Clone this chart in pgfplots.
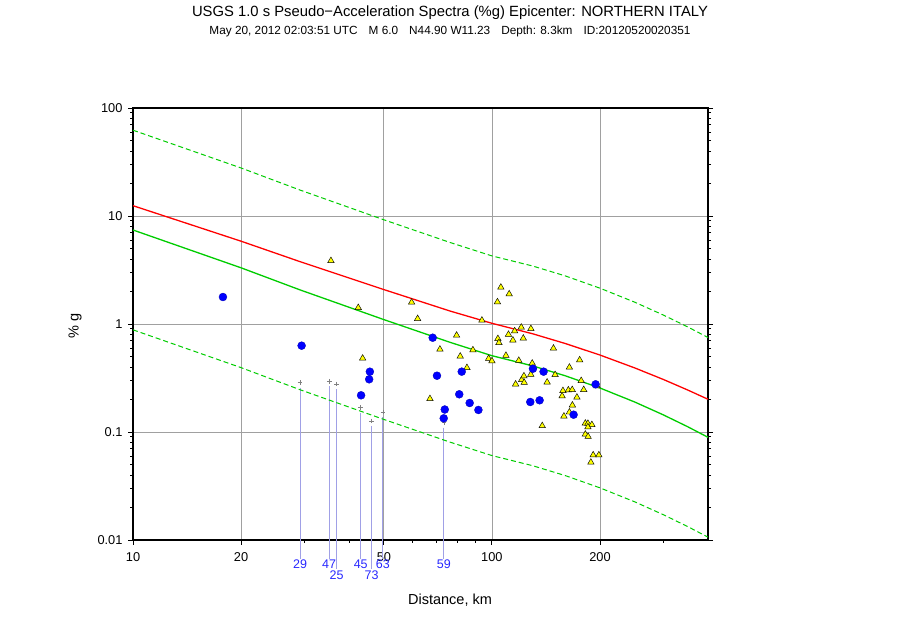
\documentclass[border=0pt]{standalone}
\usepackage{fontspec}
\setmainfont{Liberation Sans}
\usepackage{pgfplots}
\usepackage{pgfplotstable}
\pgfplotsset{compat=1.18}
\definecolor{gmtgreen}{RGB}{0,205,0}
\definecolor{stalines}{RGB}{160,160,230}
\definecolor{stalabel}{RGB}{40,40,255}
\definecolor{gridgray}{RGB}{160,160,160}
\definecolor{trifill}{RGB}{255,255,0}
\definecolor{dotblue}{RGB}{0,0,255}

\pgfplotstableread{
x y
10 12.46
20 5.845
29.19 3.78
50 2.083
76.4 1.319
100 1.015
130 0.811
160 0.660
200 0.516
250 0.392
300 0.307
350 0.246
400 0.201
}\redtab

\pgfplotstableread{
x y
10 7.42
20 3.314
29.19 2.07
50 1.098
76.4 0.677
100 0.5086
130 0.409
160 0.3317
200 0.2555
250 0.1895
300 0.1443
350 0.1125
400 0.0893
}\greentab

\pgfplotstableread{
x y
10 62.3
20 27.84
29.19 17.39
50 9.22
76.4 5.69
100 4.27
130 3.44
160 2.79
200 2.146
250 1.592
300 1.212
350 0.945
400 0.750
}\uppertab

\pgfplotstableread{
x y
10 0.883
20 0.3945
29.19 0.2464
50 0.1307
76.4 0.0806
100 0.0605
130 0.0487
160 0.0395
200 0.0304
250 0.02256
300 0.01718
350 0.01339
400 0.01063
}\lowertab

\pgfplotstableread{
x y
35.60 3.856
42.42 1.416
43.63 0.4814
59.74 1.588
62.09 1.120
67.20 0.2033
71.64 0.5831
79.74 0.7858
81.60 0.5024
85.19 0.3939
88.52 0.5744
93.79 1.082
97.91 0.4793
100.0 0.4544
103.6 1.599
103.9 0.7312
104.6 0.6711
105.9 2.187
109.4 0.5108
111.2 0.7994
111.7 1.896
114.4 0.7079
115.7 0.8615
116.4 0.2771
118.8 0.4592
120.7 0.9321
121.0 0.3043
122.3 0.7374
122.8 0.3300
123.0 0.2873
128.3 0.3407
128.4 0.9048
129.5 0.4326
138.1 0.1141
142.5 0.2891
148.4 0.5957
150.0 0.3393
156.9 0.2154
157.7 0.2412
158.7 0.1400
163.3 0.2443
164.4 0.3973
164.4 0.1526
167.4 0.2464
167.6 0.1771
172.5 0.2096
175.6 0.4642
177.3 0.2985
180.2 0.2464
182.1 0.1204
185.1 0.1199
189.9 0.1168
185.1 0.1112
182.1 0.0952
185.4 0.0908
196.3 0.2667
191.5 0.0612
198.6 0.0612
188.7 0.0524
}\tritab

\pgfplotstableread{
x y
17.81 1.778
29.5 0.630
45.7 0.3617
45.5 0.3076
43.2 0.2187
68.4 0.7465
70.3 0.332
82.4 0.362
81.1 0.2234
86.7 0.1856
91.7 0.160
73.9 0.1615
73.4 0.1338
130.1 0.3856
139.3 0.362
127.9 0.1896
135.8 0.1966
168.9 0.1446
194.5 0.2765
}\dottab

\pgfplotstableread{
x y
29.2 0.286
35.2 0.2947
36.9 0.278
43.1 0.168
46.2 0.1264
49.7 0.1532
73.5 0.122
}\crosstab

\pgfplotstableread{
x y lab
29.2 0.00593 29
35.2 0.00593 47
36.9 0.00469 25
43.1 0.00593 45
46.2 0.00469 73
49.7 0.00593 63
73.5 0.00593 59
}\labtab

\begin{document}
\begin{tikzpicture}
\fill[white] (0pt,0pt) rectangle (900pt,620pt);
\useasboundingbox (0pt,0pt) rectangle (900pt,620pt);
\begin{axis}[
  at={(133pt,80pt)}, anchor=south west,
  scale only axis, width=575pt, height=432pt,
  xmode=log, ymode=log,
  xmin=10, xmax=400, ymin=0.01, ymax=100,
  clip=false,
  xtick={10,20,50,100,200}, xticklabels={10,20,50,100,200},
  minor xtick={30,40,60,70,80,90,300},
  ytick={0.01,0.1,1,10,100}, yticklabels={0.01,0.1,1,10,100},
  minor ytick={0.02,0.03,0.04,0.05,0.06,0.07,0.08,0.09,0.2,0.3,0.4,0.5,0.6,0.7,0.8,0.9,2,3,4,5,6,7,8,9,20,30,40,50,60,70,80,90},
  xtick pos=left, ytick pos=both,
  tick align=outside,
  major tick length=5pt, minor tick length=3pt,
  every tick/.style={black, line width=0.9pt},
  xmajorgrids, ymajorgrids,
  major grid style={gridgray, line width=0.8pt},
  axis line style={black, line width=2.4pt},
  ticklabel style={font=\fontsize{12.8}{13}\selectfont},
  yticklabel style={xshift=-2pt},
  xticklabel style={yshift=-4pt},
]
\addplot[stalines, line width=0.9pt] coordinates {(29.2,0.257) (29.2,0.00667)};
\addplot[stalines, line width=0.9pt] coordinates {(35.2,0.265) (35.2,0.00667)};
\addplot[stalines, line width=0.9pt] coordinates {(36.9,0.250) (36.9,0.00539)};
\addplot[stalines, line width=0.9pt] coordinates {(43.1,0.151) (43.1,0.00667)};
\addplot[stalines, line width=0.9pt] coordinates {(46.2,0.114) (46.2,0.00539)};
\addplot[stalines, line width=0.9pt] coordinates {(49.7,0.138) (49.7,0.00667)};
\addplot[stalines, line width=0.9pt] coordinates {(73.5,0.110) (73.5,0.00667)};

\addplot[red, line width=1.3pt] table {\redtab};
\addplot[gmtgreen, line width=1.3pt] table {\greentab};
\addplot[gmtgreen, line width=1pt, dash pattern=on 5pt off 3pt] table {\uppertab};
\addplot[gmtgreen, line width=1pt, dash pattern=on 5pt off 3pt] table {\lowertab};

\addplot[only marks, mark=+, mark size=2.4pt, mark options={gray, line width=0.8pt}] table {\crosstab};
\addplot[only marks, mark=none, nodes near coords, point meta=explicit symbolic,
  nodes near coords style={font=\fontsize{12.5}{13}\selectfont, text=stalabel, anchor=center, inner sep=0pt}]
  table[meta=lab] {\labtab};

\addplot[only marks, mark=triangle*, mark size=3.7pt, mark options={fill=trifill, draw=black, line width=0.45pt}] table {\tritab};
\addplot[only marks, mark=*, mark size=4pt, mark options={fill=dotblue, draw=dotblue!70!black, line width=0.3pt}] table {\dottab};
\end{axis}
\node[font=\fontsize{14.8}{16}\selectfont] at (450pt,607.5pt) {USGS 1.0 s Pseudo−Acceleration Spectra (\%g) Epicenter: NORTHERN ITALY};
\node[font=\fontsize{11.8}{13}\selectfont] at (450pt,588.5pt) {May 20, 2012 02:03:51 UTC\hspace{11pt}M 6.0\hspace{11pt}N44.90 W11.23\hspace{11pt}Depth: 8.3km\hspace{11pt}ID:20120520020351};
\node[font=\fontsize{14.5}{16}\selectfont] at (450pt,20pt) {Distance, km};
\node[rotate=90, font=\fontsize{14.5}{16}\selectfont] at (75pt,294pt) {\% g};
\end{tikzpicture}
\end{document}
